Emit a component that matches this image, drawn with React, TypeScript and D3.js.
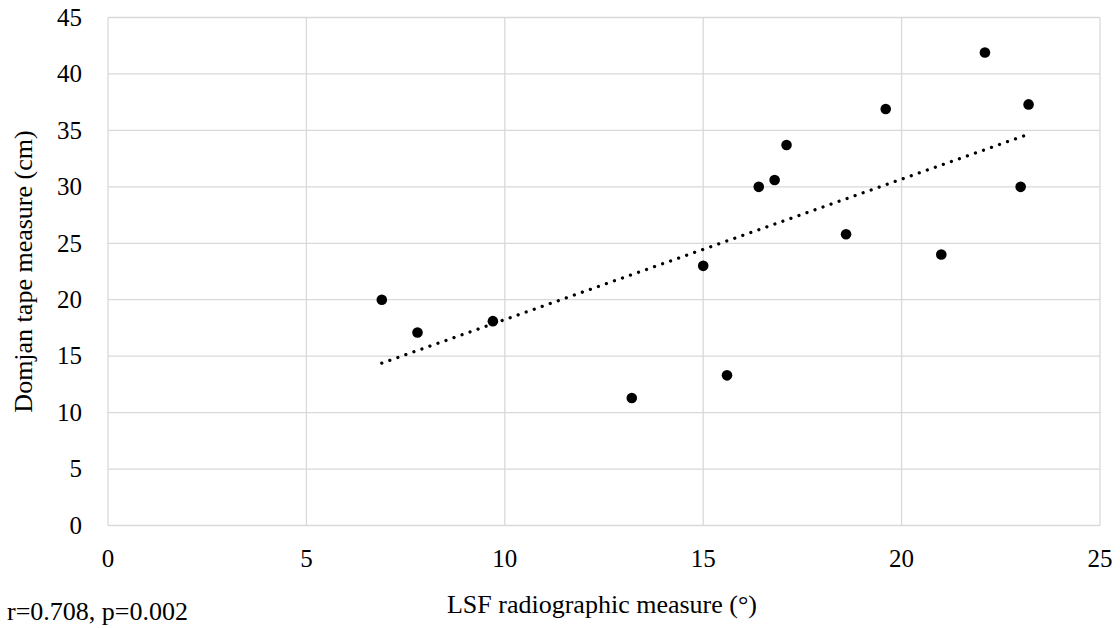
import { useEffect, useRef } from "react";
import * as d3 from "d3";

// LSF radiographic measure (deg) vs Domjan tape measure (cm)
const lsfValues = [6.9, 7.8, 9.7, 13.2, 15.0, 15.6, 16.4, 16.8, 17.1, 18.6, 19.6, 21.0, 22.1, 23.0, 23.2];
const domjanValues = [20.0, 17.1, 18.1, 11.3, 23.0, 13.3, 30.0, 30.6, 33.7, 25.8, 36.9, 24.0, 41.9, 30.0, 37.3];

const xTicks = [0, 5, 10, 15, 20, 25];
const yTicks = [0, 5, 10, 15, 20, 25, 30, 35, 40, 45];

const xTitle = "LSF radiographic measure (°)";
const yTitle = "Domjan tape measure (cm)";
const statsNote = "r=0.708, p=0.002";

const width = 1120;
const height = 628;
const font = "'Liberation Serif', 'Times New Roman', serif";

const App = () => {
  const ref = useRef<SVGSVGElement>(null);

  useEffect(() => {
    const svg = d3.select(ref.current);
    svg.selectAll("*").remove();

    const margin = { top: 17.5, right: 20, bottom: 102.5, left: 108 };
    const innerW = width - margin.left - margin.right;
    const innerH = height - margin.top - margin.bottom;

    const x = d3.scaleLinear().domain([0, 25]).range([0, innerW]);
    const y = d3.scaleLinear().domain([0, 45]).range([innerH, 0]);

    const g = svg
      .append("g")
      .attr("transform", `translate(${margin.left},${margin.top})`);

    // grid
    g.selectAll("line.gx")
      .data(xTicks)
      .enter()
      .append("line")
      .attr("x1", (d) => x(d))
      .attr("x2", (d) => x(d))
      .attr("y1", 0)
      .attr("y2", innerH)
      .attr("stroke", "#d9d9d9")
      .attr("stroke-width", 1.3);

    g.selectAll("line.gy")
      .data(yTicks)
      .enter()
      .append("line")
      .attr("x1", 0)
      .attr("x2", innerW)
      .attr("y1", (d) => y(d))
      .attr("y2", (d) => y(d))
      .attr("stroke", "#d9d9d9")
      .attr("stroke-width", 1.3);

    // tick labels
    g.selectAll("text.tx")
      .data(xTicks)
      .enter()
      .append("text")
      .attr("x", (d) => x(d))
      .attr("y", innerH + 41)
      .attr("text-anchor", "middle")
      .attr("font-family", font)
      .attr("font-size", 25)
      .attr("fill", "#000")
      .text((d) => d);

    g.selectAll("text.ty")
      .data(yTicks)
      .enter()
      .append("text")
      .attr("x", -26)
      .attr("y", (d) => y(d))
      .attr("dy", "0.33em")
      .attr("text-anchor", "end")
      .attr("font-family", font)
      .attr("font-size", 25)
      .attr("fill", "#000")
      .text((d) => d);

    // trendline (least squares)
    const mx = d3.mean(lsfValues) as number;
    const my = d3.mean(domjanValues) as number;
    let sxy = 0;
    let sxx = 0;
    lsfValues.forEach((v, i) => {
      sxy += (v - mx) * (domjanValues[i] - my);
      sxx += (v - mx) * (v - mx);
    });
    const slope = sxy / sxx;
    const intercept = my - slope * mx;
    const x0 = d3.min(lsfValues) as number;
    const x1 = d3.max(lsfValues) as number;

    g.append("line")
      .attr("x1", x(x0))
      .attr("y1", y(intercept + slope * x0))
      .attr("x2", x(x1))
      .attr("y2", y(intercept + slope * x1))
      .attr("stroke", "#000")
      .attr("stroke-width", 3.3)
      .attr("stroke-linecap", "round")
      .attr("stroke-dasharray", "0.01 8.5");

    // points
    g.selectAll("circle")
      .data(lsfValues.map((v, i) => [v, domjanValues[i]]))
      .enter()
      .append("circle")
      .attr("cx", (d) => x(d[0]))
      .attr("cy", (d) => y(d[1]))
      .attr("r", 5.3)
      .attr("fill", "#000");

    // titles
    svg
      .append("text")
      .attr("x", 602)
      .attr("y", 613)
      .attr("text-anchor", "middle")
      .attr("font-family", font)
      .attr("font-size", 26)
      .attr("fill", "#000")
      .text(xTitle);

    svg
      .append("text")
      .attr("transform", `translate(32,${margin.top + innerH / 2}) rotate(-90)`)
      .attr("text-anchor", "middle")
      .attr("font-family", font)
      .attr("font-size", 26)
      .attr("fill", "#000")
      .text(yTitle);

    svg
      .append("text")
      .attr("x", 7)
      .attr("y", 620)
      .attr("font-family", font)
      .attr("font-size", 26)
      .attr("fill", "#000")
      .text(statsNote);
  }, []);

  return (
    <svg
      ref={ref}
      width={width}
      height={height}
      style={{ position: "absolute", left: 0, top: 0, background: "#fff" }}
    />
  );
};

export default App;
